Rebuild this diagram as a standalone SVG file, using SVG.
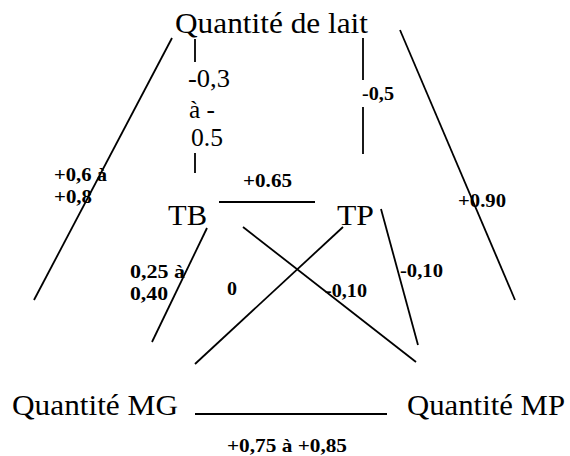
<svg xmlns="http://www.w3.org/2000/svg" width="570" height="456" viewBox="0 0 570 456">
<style>
text{font-family:'Liberation Serif','Times New Roman',Times,'DejaVu Serif',serif;fill:#000}
.big{font-size:30px}
.mid{font-size:26px}
.lab{font-size:19px;font-weight:bold}
.edge line{stroke:#000;stroke-width:1.8;fill:none}
</style>
<rect width="570" height="456" fill="#fff"/>
<g id="connectors" class="edge">
<line x1="172" y1="38" x2="34" y2="300"/>
<line x1="195" y1="39" x2="195" y2="62"/>
<line x1="195" y1="153" x2="195" y2="173"/>
<line x1="363" y1="38" x2="363" y2="80"/>
<line x1="363" y1="107" x2="363" y2="154"/>
<line x1="400" y1="30" x2="515" y2="300"/>
<line x1="219" y1="202" x2="315" y2="202"/>
<line x1="207" y1="228" x2="152" y2="342"/>
<line x1="243" y1="227" x2="416" y2="362"/>
<line x1="343" y1="227" x2="195" y2="364"/>
<line x1="381" y1="209" x2="418" y2="345"/>
<line x1="195" y1="414" x2="387" y2="414"/>
</g>
<g id="labels">
<text class="mid" x="188" y="87" textLength="42" lengthAdjust="spacingAndGlyphs">-0,3</text>
<text class="mid" x="189" y="118" textLength="26" lengthAdjust="spacingAndGlyphs">à -</text>
<text class="mid" x="191" y="146" textLength="32" lengthAdjust="spacingAndGlyphs">0.5</text>
<text class="lab" x="362" y="100" textLength="32" lengthAdjust="spacingAndGlyphs">-0,5</text>
<text class="lab" x="54" y="181" textLength="53" lengthAdjust="spacingAndGlyphs">+0,6 à</text>
<text class="lab" x="54" y="203" textLength="38" lengthAdjust="spacingAndGlyphs">+0,8</text>
<text class="lab" x="243" y="187" textLength="49" lengthAdjust="spacingAndGlyphs">+0.65</text>
<text class="lab" x="458" y="207" textLength="48" lengthAdjust="spacingAndGlyphs">+0.90</text>
<text class="lab" x="130" y="278" textLength="55" lengthAdjust="spacingAndGlyphs">0,25 à</text>
<text class="lab" x="130" y="300" textLength="38" lengthAdjust="spacingAndGlyphs">0,40</text>
<text class="lab" x="227" y="295" textLength="10" lengthAdjust="spacingAndGlyphs">0</text>
<text class="lab" x="325" y="297" textLength="42" lengthAdjust="spacingAndGlyphs">-0,10</text>
<text class="lab" x="400" y="277" textLength="43" lengthAdjust="spacingAndGlyphs">-0,10</text>
<text class="lab" x="227" y="452" textLength="120" lengthAdjust="spacingAndGlyphs">+0,75 à +0,85</text>
</g>
<g id="node-lait"><text class="big" x="175" y="33" textLength="193" lengthAdjust="spacingAndGlyphs">Quantité de lait</text></g>
<g id="node-TB"><text class="big" x="168" y="225" textLength="39" lengthAdjust="spacingAndGlyphs">TB</text></g>
<g id="node-TP"><text class="big" x="337" y="225" textLength="37" lengthAdjust="spacingAndGlyphs">TP</text></g>
<g id="node-MG"><text class="big" x="12" y="415" textLength="166" lengthAdjust="spacingAndGlyphs">Quantité MG</text></g>
<g id="node-MP"><text class="big" x="407" y="415" textLength="158" lengthAdjust="spacingAndGlyphs">Quantité MP</text></g>
</svg>
